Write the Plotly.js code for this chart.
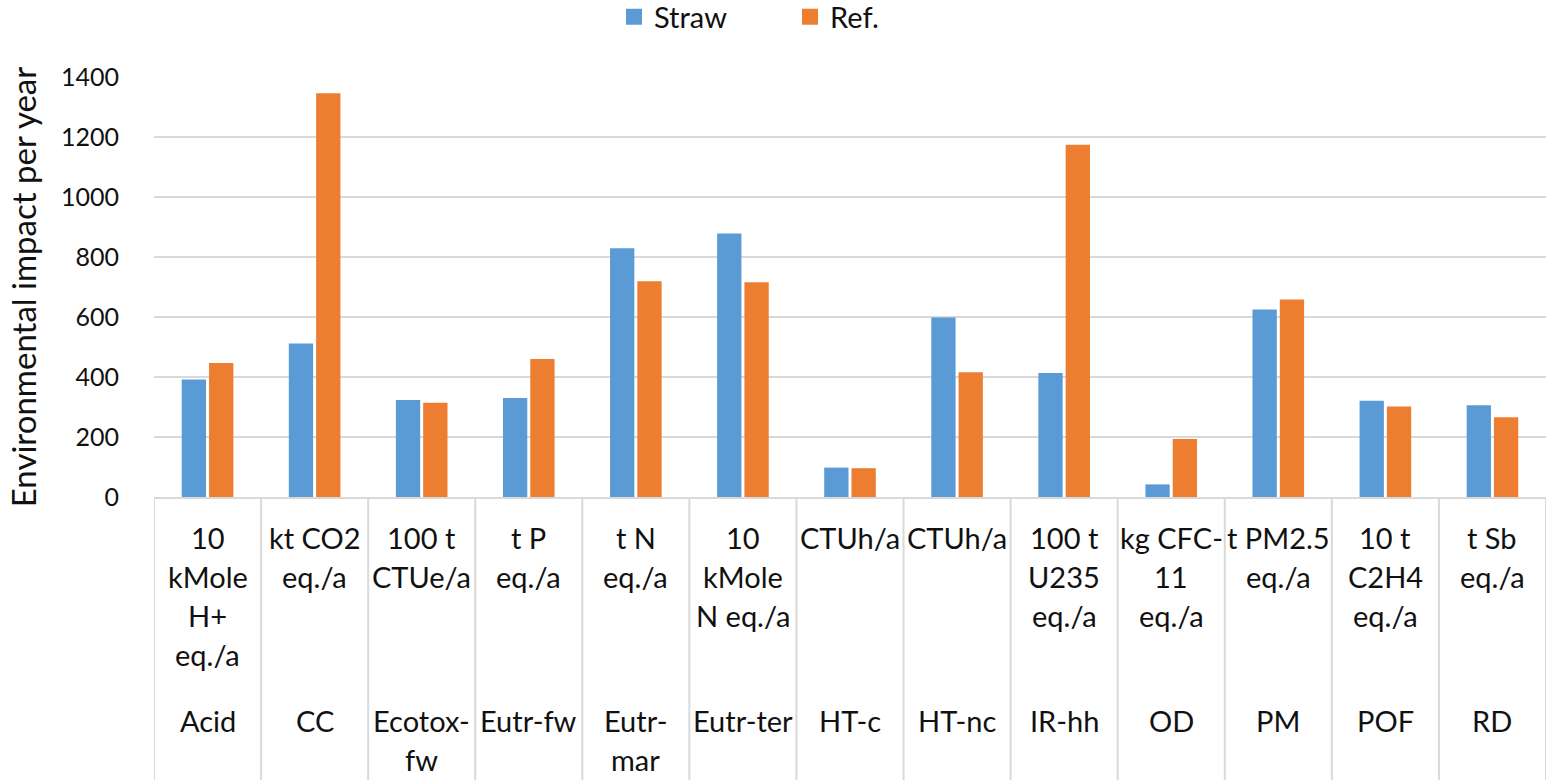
<!DOCTYPE html>
<html>
<head>
<meta charset="utf-8">
<script src="https://cdn.plot.ly/plotly-3.0.1.min.js"></script>
<style>
  html, body { margin: 0; padding: 0; background: #ffffff; }
  #chart { width: 1552px; height: 784px; }
</style>
</head>
<body>
<div id="chart"></div>
<script>
// ---- data ----
const categories = ["Acid", "CC", "Ecotox-fw", "Eutr-fw", "Eutr-mar", "Eutr-ter", "HT-c", "HT-nc", "IR-hh", "OD", "PM", "POF", "RD"];
const categoryLabels = ["Acid", "CC", "Ecotox-<br>fw", "Eutr-fw", "Eutr-<br>mar", "Eutr-ter", "HT-c", "HT-nc", "IR-hh", "OD", "PM", "POF", "RD"];
const unitLabels = ["10<br>kMole<br>H+<br>eq./a", "kt CO2<br>eq./a", "100 t<br>CTUe/a", "t P<br>eq./a", "t N<br>eq./a", "10<br>kMole<br>N eq./a", "CTUh/a", "CTUh/a", "100 t<br>U235<br>eq./a", "kg CFC-<br>11<br>eq./a", "t PM2.5<br>eq./a", "10 t<br>C2H4<br>eq./a", "t Sb<br>eq./a"];
const straw = [392, 512, 323, 330, 829, 878, 98, 598, 413, 42, 625, 321, 306];
const ref = [447, 1346, 314, 460, 719, 716, 96, 416, 1174, 193, 658, 302, 266];
const seriesNames = ["Straw", "Ref."];
const yTicks = [0, 200, 400, 600, 800, 1000, 1200, 1400];

// ---- styling ----
const FONT = "Lato, 'Open Sans', sans-serif";
const BLUE = "#5b9bd5", ORANGE = "#ed7d31", GRID = "#d9d9d9", TXT = "#111111";
const W = 1552, H = 784;
const M = { l: 154, r: 6, t: 77, b: 287 };
const plotH = H - M.t - M.b;
const pxToPaperY = (py) => -(py - (H - M.b)) / plotH;

const traces = [
  { type: "bar", name: seriesNames[0], x: categories, y: straw, marker: { color: BLUE }, showlegend: false, hoverinfo: "x+y" },
  { type: "bar", name: seriesNames[1], x: categories, y: ref, marker: { color: ORANGE }, showlegend: false, hoverinfo: "x+y" },
  // legend entries
  { type: "scatter", mode: "markers", name: seriesNames[0], x: [null], y: [null], marker: { symbol: "square", size: 16, color: BLUE } },
  { type: "scatter", mode: "markers", name: seriesNames[1], x: [null], y: [null], marker: { symbol: "square", size: 16, color: ORANGE } }
];

// table lines & labels below the plot
const shapes = [];
for (let i = 0; i <= categories.length; i++) {
  shapes.push({ type: "line", xref: "x", yref: "paper", x0: i - 0.5, x1: i - 0.5, y0: 0, y1: pxToPaperY(780), line: { color: GRID, width: 2 }, layer: "below" });
}
const annotations = [];
const LINE = 39.3;
const TFS = 29;
categories.forEach((c, i) => {
  unitLabels[i].split("<br>").forEach((t, k) => {
    annotations.push({ xref: "x", yref: "paper", x: c, y: pxToPaperY(537 + k * LINE), text: t, showarrow: false, xanchor: "center", yanchor: "middle", font: { family: FONT, size: TFS, color: TXT } });
  });
  categoryLabels[i].split("<br>").forEach((t, k) => {
    annotations.push({ xref: "x", yref: "paper", x: c, y: pxToPaperY(720 + k * LINE), text: t, showarrow: false, xanchor: "center", yanchor: "middle", font: { family: FONT, size: TFS, color: TXT } });
  });
});

const layout = {
  width: W, height: H,
  margin: M,
  paper_bgcolor: "#ffffff", plot_bgcolor: "#ffffff",
  font: { family: FONT, color: TXT },
  barmode: "group",
  bargap: 0.49,
  bargroupgap: 0.11,
  showlegend: true,
  legend: {
    orientation: "h", xref: "container", yref: "container",
    x: 614 / W, xanchor: "left",
    y: 1 - 17 / H, yanchor: "middle",
    font: { family: FONT, size: 29, color: TXT },
    entrywidth: 131, entrywidthmode: "pixels", itemwidth: 30,
    bgcolor: "rgba(0,0,0,0)"
  },
  xaxis: {
    type: "category", categoryorder: "array", categoryarray: categories,
    range: [-0.5, categories.length - 0.5],
    showticklabels: false, showgrid: false, zeroline: false,
    showline: true, linecolor: GRID, linewidth: 2, ticks: "", fixedrange: true
  },
  yaxis: {
    range: [0, 1400], tickvals: yTicks, ticktext: yTicks.map(String),
    showgrid: true, gridcolor: GRID, gridwidth: 2,
    zeroline: false, showline: false, ticks: "",
    ticklabelstandoff: 34,
    tickfont: { family: FONT, size: 25, color: TXT },
    title: { text: "Environmental impact per year", font: { family: FONT, size: 33, color: TXT }, standoff: 14 },
    automargin: false, fixedrange: true
  },
  shapes: shapes,
  annotations: annotations
};

Plotly.newPlot("chart", traces, layout, { displayModeBar: false, staticPlot: true });
</script>
</body>
</html>
